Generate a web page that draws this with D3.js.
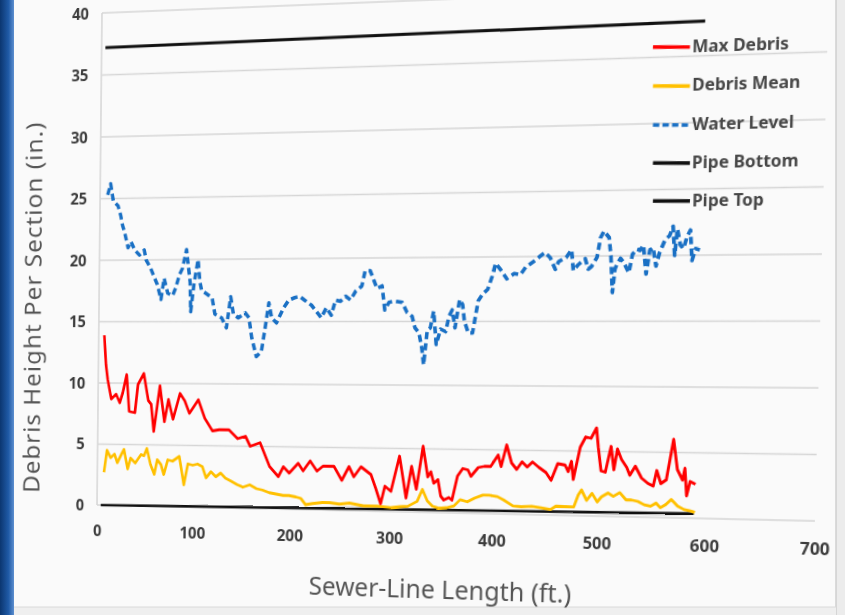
<!DOCTYPE html>
<html>
<head>
<meta charset="utf-8">
<title>Debris Height Per Section</title>
<script src="https://cdn.jsdelivr.net/npm/d3@7"></script>
<style>
    body { margin: 0; background: #f6f6f6; }
    #wrap { position: relative; width: 845px; height: 615px; overflow: hidden; background: #fafafa; }
    #bg, #vis svg { position: absolute; left: 0; top: 0; }
    #vis svg { overflow: visible; transform-origin: 0 0; }
    .grid line { stroke: #d6d6d6; stroke-width: 1.6; }
    .tick text { font-family: "Noto Sans", "Open Sans", sans-serif; font-weight: bold; fill: #3c3c3c; font-size: 16px; }
    .title { font-family: "Noto Sans", "Open Sans", sans-serif; fill: #555; }
    .legend text { font-family: "Noto Sans", "Open Sans", sans-serif; font-weight: bold; fill: #474747; font-size: 16px; }
</style>
</head>
<body>
<div id="wrap">
    <svg id="bg" width="845" height="615"></svg>
    <div id="vis"></div>
</div>
<script>
    // sewer-line station (ft.) and readings (in.)
    var maxDebrisX = [6, 8, 10, 14, 19, 23, 26, 30, 33, 39, 42, 48, 53, 56, 59, 65, 70, 74, 79, 86, 91, 96,
        105, 112, 120, 127, 137, 146, 154, 159, 169, 179, 188, 193, 199, 208, 213, 220, 227, 233, 244, 252,
        259, 264, 271, 281, 286, 291, 295, 301, 309, 316, 321, 326, 332, 337, 340, 343, 347, 350, 353, 358,
        361, 366, 371, 376, 379, 386, 392, 398, 405, 408, 413, 418, 423, 428, 433, 438, 444, 451, 456, 462,
        469, 472, 475, 477, 483, 488, 493, 498, 500, 503, 507, 512, 515, 518, 522, 527, 530, 535, 541, 547,
        552, 555, 559, 564, 570, 574, 579, 581, 583, 586, 591];
    var maxDebris = [13.9, 11.5, 10.3, 8.7, 9.1, 8.4, 9.2, 10.7, 7.7, 7.6, 9.9, 10.8, 8.6, 8.3, 6.1, 9.8, 6.9,
        8.7, 7.1, 9.2, 8.6, 7.6, 8.7, 7.2, 6.2, 6.3, 6.3, 5.6, 5.8, 5.0, 5.3, 3.4, 2.6, 3.4, 2.9, 3.7, 3.1,
        3.9, 3.1, 3.5, 3.5, 2.4, 3.5, 2.7, 3.5, 2.9, 1.8, 0.6, 2.0, 1.6, 4.4, 1.1, 3.6, 1.8, 5.2, 2.8, 3.2,
        2.3, 2.6, 1.3, 1.0, 1.2, 1.0, 2.9, 3.5, 3.4, 2.9, 3.6, 3.7, 3.7, 4.6, 3.7, 5.4, 4.0, 3.5, 4.1, 3.7,
        4.1, 3.7, 3.3, 2.7, 4.0, 3.9, 3.4, 4.2, 2.8, 5.3, 6.1, 6.0, 6.8, 5.3, 3.5, 3.4, 5.4, 3.6, 5.2, 4.4,
        3.8, 3.2, 3.9, 3.0, 2.6, 2.4, 3.6, 2.6, 2.9, 6.0, 3.7, 2.9, 3.8, 1.7, 2.8, 2.6];

    var debrisMeanX = [7, 10, 14, 18, 21, 26, 28, 32, 35, 40, 46, 49, 52, 56, 60, 63, 67, 70, 74, 79, 86, 91,
        95, 100, 105, 110, 114, 119, 124, 129, 134, 139, 146, 152, 159, 166, 172, 179, 186, 193, 199, 206,
        211, 216, 223, 233, 240, 250, 260, 274, 288, 301, 310, 318, 327, 332, 337, 342, 348, 356, 363, 369,
        376, 383, 391, 397, 405, 411, 420, 428, 438, 447, 456, 461, 470, 478, 482, 485, 490, 495, 500, 504,
        510, 515, 521, 527, 532, 538, 544, 550, 555, 559, 564, 569, 575, 581, 587, 591];
    var debrisMean = [2.7, 4.5, 3.9, 4.2, 3.5, 4.3, 4.6, 3.0, 3.9, 3.5, 4.2, 4.1, 4.7, 3.4, 2.6, 3.8, 3.4,
        2.6, 3.8, 3.7, 4.1, 1.8, 3.5, 3.4, 3.5, 3.3, 2.4, 2.9, 2.5, 2.8, 2.4, 2.2, 1.9, 1.7, 1.9, 1.6, 1.5,
        1.3, 1.2, 1.1, 1.1, 1.0, 0.9, 0.4, 0.5, 0.6, 0.6, 0.5, 0.6, 0.4, 0.4, 0.3, 0.4, 0.45, 0.85, 1.8, 0.9,
        0.5, 0.35, 0.4, 0.55, 1.05, 0.9, 1.2, 1.45, 1.45, 1.35, 1.1, 0.65, 0.6, 0.65, 0.55, 0.43, 0.7, 0.68,
        0.67, 1.6, 2.0, 1.2, 1.75, 1.1, 1.5, 1.8, 1.55, 1.85, 1.3, 1.3, 1.2, 0.95, 0.85, 1.1, 0.75, 1.0, 1.4,
        0.9, 0.65, 0.55, 0.45];

    var waterX = [8, 11, 14, 19, 22, 24, 26, 30, 33, 37, 42, 47, 49, 54, 61, 65, 68, 72, 77, 80, 84, 87, 91,
        95, 96, 99, 103, 105, 107, 111, 118, 121, 128, 133, 137, 140, 145, 152, 156, 159, 164, 169, 172, 176,
        179, 184, 191, 196, 202, 207, 212, 219, 224, 229, 234, 239, 243, 248, 253, 258, 263, 269, 272, 277,
        281, 284, 289, 292, 296, 302, 309, 314, 319, 322, 326, 329, 331, 334, 337, 340, 343, 347, 352, 355,
        358, 361, 365, 368, 370, 374, 378, 380, 383, 387, 392, 396, 399, 404, 410, 417, 423, 428, 435, 441,
        446, 451, 456, 459, 466, 471, 473, 477, 484, 487, 490, 495, 498, 501, 506, 508, 510, 512, 514, 517,
        520, 525, 528, 532, 535, 538, 541, 544, 547, 550, 553, 558, 562, 565, 567, 569, 572, 575, 578, 581,
        583, 586, 590];
    var waterLevel = [25.3, 26.2, 24.8, 24.4, 23.6, 22.8, 22.3, 21.0, 21.5, 20.8, 20.4, 20.8, 20.0, 19.3,
        18.0, 16.8, 18.5, 17.3, 17.1, 17.7, 18.8, 19.3, 20.8, 18.2, 15.8, 18.0, 20.0, 18.3, 17.5, 17.3, 16.9,
        15.6, 15.3, 14.5, 17.0, 15.6, 15.3, 15.7, 15.3, 13.7, 12.2, 12.6, 14.2, 16.5, 15.3, 14.9, 16.1, 16.7,
        16.9, 17.0, 16.7, 16.3, 15.8, 15.3, 16.1, 15.5, 16.7, 16.6, 17.0, 16.7, 17.4, 17.8, 19.0, 19.0, 18.2,
        17.6, 17.8, 15.9, 16.5, 16.6, 16.5, 15.7, 15.4, 14.5, 14.1, 12.9, 11.6, 14.3, 14.5, 15.8, 13.2, 14.4,
        14.2, 15.4, 15.9, 14.5, 16.7, 16.3, 15.0, 14.1, 14.1, 15.1, 16.6, 17.1, 17.5, 18.5, 19.5, 19.0, 18.3,
        18.7, 18.6, 19.2, 19.6, 20.0, 20.3, 19.9, 19.0, 19.6, 19.9, 20.5, 18.9, 19.3, 19.8, 19.0, 19.2, 19.9,
        21.4, 21.9, 21.4, 20.0, 17.2, 19.0, 19.4, 19.8, 19.5, 18.7, 20.1, 20.5, 20.4, 20.8, 18.6, 20.4, 20.6,
        19.2, 20.2, 21.2, 21.5, 22.2, 20.0, 22.0, 20.8, 20.5, 21.4, 21.9, 19.6, 20.5, 20.4];

    var pipeX = [4, 590];
    var pipeBottom = [0, 0.35];
    var pipeTop = [37.2, 37.6];

    var xTicks = [0, 100, 200, 300, 400, 500, 600, 700];
    var yTicks = [0, 5, 10, 15, 20, 25, 30, 35, 40];
    var seriesNames = ["Max Debris", "Debris Mean", "Water Level", "Pipe Bottom", "Pipe Top"];

    var width = 845,
        height = 615;

    // flat plot box, and where the photographed slide puts its corners
    var box = { left: 100, right: 817, top: 12, bottom: 512 };
    var quad = [[102, 13], [829, -16], [815, 521], [97, 505]];

    function solveHomography(src, dst) {
        var A = [], b = [];
        for (var i = 0; i < 4; i++) {
            var x = src[i][0], y = src[i][1], X = dst[i][0], Y = dst[i][1];
            A.push([x, y, 1, 0, 0, 0, -x * X, -y * X]); b.push(X);
            A.push([0, 0, 0, x, y, 1, -x * Y, -y * Y]); b.push(Y);
        }
        for (var c = 0; c < 8; c++) {
            var p = c;
            for (var r = c + 1; r < 8; r++) if (Math.abs(A[r][c]) > Math.abs(A[p][c])) p = r;
            var t = A[c]; A[c] = A[p]; A[p] = t;
            t = b[c]; b[c] = b[p]; b[p] = t;
            for (var r2 = 0; r2 < 8; r2++) {
                if (r2 === c) continue;
                var f = A[r2][c] / A[c][c];
                for (var k = c; k < 8; k++) A[r2][k] -= f * A[c][k];
                b[r2] -= f * b[c];
            }
        }
        return b.map(function(v, i) { return v / A[i][i]; });
    }

    var H = solveHomography(
        [[box.left, box.top], [box.right, box.top], [box.right, box.bottom], [box.left, box.bottom]], quad);

    // inverse of [[a,b,c],[d,e,f],[g,h,1]]
    var M = [[H[0], H[1], H[2]], [H[3], H[4], H[5]], [H[6], H[7], 1]];
    var det = M[0][0] * (M[1][1] * M[2][2] - M[1][2] * M[2][1]) -
        M[0][1] * (M[1][0] * M[2][2] - M[1][2] * M[2][0]) +
        M[0][2] * (M[1][0] * M[2][1] - M[1][1] * M[2][0]);
    var Inv = [
        [(M[1][1] * M[2][2] - M[1][2] * M[2][1]) / det, (M[0][2] * M[2][1] - M[0][1] * M[2][2]) / det, (M[0][1] * M[1][2] - M[0][2] * M[1][1]) / det],
        [(M[1][2] * M[2][0] - M[1][0] * M[2][2]) / det, (M[0][0] * M[2][2] - M[0][2] * M[2][0]) / det, (M[0][2] * M[1][0] - M[0][0] * M[1][2]) / det],
        [(M[1][0] * M[2][1] - M[1][1] * M[2][0]) / det, (M[0][1] * M[2][0] - M[0][0] * M[2][1]) / det, (M[0][0] * M[1][1] - M[0][1] * M[1][0]) / det]
    ];

    function unwarp(p) {
        var w = Inv[2][0] * p[0] + Inv[2][1] * p[1] + Inv[2][2];
        return [(Inv[0][0] * p[0] + Inv[0][1] * p[1] + Inv[0][2]) / w,
            (Inv[1][0] * p[0] + Inv[1][1] * p[1] + Inv[1][2]) / w];
    }

    // backdrop of the photographed slide
    var bg = d3.select("#bg");
    var grad = bg.append("defs").append("linearGradient").attr("id", "edge");
    grad.append("stop").attr("offset", "0%").attr("stop-color", "#0b3670");
    grad.append("stop").attr("offset", "60%").attr("stop-color", "#1f5aa6");
    grad.append("stop").attr("offset", "100%").attr("stop-color", "#5d8fcf");
    bg.append("rect").attr("x", 0).attr("y", 0).attr("width", 14).attr("height", height).attr("fill", "url(#edge)");
    bg.append("rect").attr("x", 836).attr("y", 0).attr("width", 9).attr("height", height).attr("fill", "#ececec");
    bg.append("line").attr("x1", 836).attr("x2", 836).attr("y1", 0).attr("y2", height)
        .attr("stroke", "#cfcfcf").attr("stroke-width", 1.5);
    bg.append("rect").attr("x", 14).attr("y", 607).attr("width", 822).attr("height", 8).attr("fill", "#efefef");
    bg.append("line").attr("x1", 14).attr("x2", 836).attr("y1", 607).attr("y2", 607)
        .attr("stroke", "#dadada").attr("stroke-width", 1.2);

    var svg = d3.select("#vis").append("svg")
        .attr("width", width)
        .attr("height", height)
        .style("transform", "matrix3d(" + [H[0], H[3], 0, H[6], H[1], H[4], 0, H[7], 0, 0, 1, 0, H[2], H[5], 0, 1]
            .map(function(v) { return v.toFixed(10); }).join(",") + ")");

    var x = d3.scaleLinear().domain([0, 700]).range([box.left, box.right]);
    var y = d3.scaleLinear().domain([0, 40]).range([box.bottom, box.top]);

    svg.append("g")
        .attr("class", "grid")
        .selectAll("line")
        .data(yTicks)
        .enter().append("line")
        .attr("x1", box.left)
        .attr("x2", box.right)
        .attr("y1", function(d) { return y(d); })
        .attr("y2", function(d) { return y(d); });

    svg.append("line")
        .attr("x1", box.left).attr("x2", box.left)
        .attr("y1", box.top).attr("y2", box.bottom)
        .attr("stroke", "#d6d6d6").attr("stroke-width", 1.6);

    var yAxis = svg.append("g")
        .attr("transform", "translate(" + box.left + ",0)")
        .call(d3.axisLeft(y).tickValues(yTicks).tickSize(0).tickPadding(14));
    yAxis.select(".domain").remove();

    var xAxis = svg.append("g")
        .attr("transform", "translate(0," + box.bottom + ")")
        .call(d3.axisBottom(x).tickValues(xTicks).tickSize(0).tickPadding(21));
    xAxis.select(".domain").remove();

    function drawSeries(xs, ys, color, width, dash) {
        var line = d3.line()
            .x(function(d, i) { return x(xs[i]); })
            .y(function(d) { return y(d); });
        svg.append("path")
            .datum(ys)
            .attr("d", line)
            .attr("fill", "none")
            .attr("stroke", color)
            .attr("stroke-width", width)
            .attr("stroke-linejoin", "round")
            .attr("stroke-dasharray", dash);
    }

    drawSeries(pipeX, pipeBottom, "#111", 2.6, null);
    drawSeries(debrisMeanX, debrisMean, "#ffc000", 2.8, null);
    drawSeries(maxDebrisX, maxDebris, "#ff0000", 2.8, null);
    drawSeries(waterX, waterLevel, "#1a70c4", 3.6, "7,4");
    drawSeries(pipeX, pipeTop, "#111", 3, null);

    // legend
    var legendColors = ["#ff0000", "#ffc000", "#1a70c4", "#111", "#111"];
    var legendDash = [null, null, "6,3", null, null];
    var legendRows = [47, 86, 125, 163, 201];
    var legend = svg.append("g").attr("class", "legend");
    seriesNames.forEach(function(name, i) {
        var a = unwarp([653, legendRows[i]]);
        var b = unwarp([690, legendRows[i]]);
        legend.append("line")
            .attr("x1", a[0]).attr("y1", a[1])
            .attr("x2", b[0]).attr("y2", b[1])
            .attr("stroke", legendColors[i])
            .attr("stroke-width", 3.4)
            .attr("stroke-dasharray", legendDash[i]);
        legend.append("text")
            .attr("x", b[0] + 2)
            .attr("y", b[1])
            .attr("dy", "0.3em")
            .text(name);
    });

    var yt = unwarp([33, 308]);
    svg.append("text")
        .attr("class", "title")
        .attr("transform", "translate(" + yt[0] + "," + yt[1] + ") rotate(-90)")
        .attr("text-anchor", "middle")
        .attr("dy", "0.35em")
        .style("font-size", "25px")
        .style("letter-spacing", "1px")
        .text("Debris Height Per Section (in.)");

    var xt = unwarp([438, 590]);
    svg.append("text")
        .attr("class", "title")
        .attr("x", xt[0])
        .attr("y", xt[1])
        .attr("text-anchor", "middle")
        .attr("dy", "0.35em")
        .style("font-size", "25px")
        .text("Sewer-Line Length (ft.)");
</script>
</body>
</html>
